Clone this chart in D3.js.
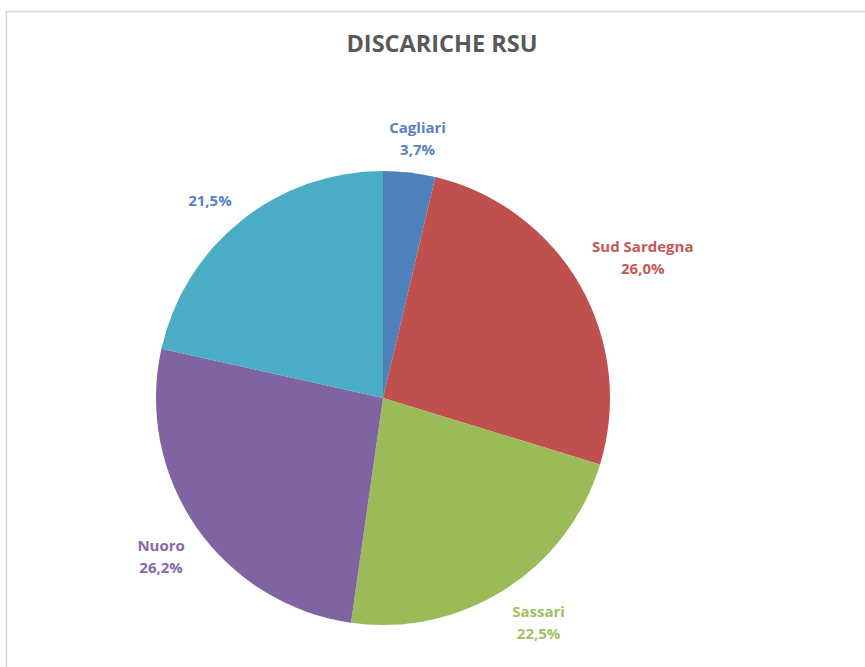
<!DOCTYPE html>
<html>
<head>
<meta charset="utf-8">
<script src="https://cdn.jsdelivr.net/npm/d3@7"></script>
<style>
  html, body { margin: 0; padding: 0; background: #ffffff; }
  svg { display: block; }
</style>
</head>
<body>
<svg id="chart" width="865" height="667"></svg>
<script>
// Discariche RSU: share by province
const categories = ["Cagliari", "Sud Sardegna", "Sassari", "Nuoro", "Oristano"];
const labelNames = ["Cagliari", "Sud Sardegna", "Sassari", "Nuoro", ""];
const shares = [3.7, 26.0, 22.5, 26.2, 21.5];
const sliceColors = ["#4f81bd", "#c0504d", "#9bbb59", "#8064a2", "#4bacc6"];
const labelColors = ["#5a80bf", "#c45957", "#a2bf66", "#8669a8", "#5a80bf"];
const titleText = "DISCARICHE RSU";

const W = 865, H = 667;
const cx = 383, cy = 398, radius = 227;

const svg = d3.select("#chart");

// frame lines around the chart area
svg.append("line").attr("x1", 5).attr("y1", 11.5).attr("x2", W).attr("y2", 11.5)
  .attr("stroke", "#dadada").attr("stroke-width", 1.5);
svg.append("line").attr("x1", 6.5).attr("y1", 11).attr("x2", 6.5).attr("y2", H)
  .attr("stroke", "#dadada").attr("stroke-width", 1.5);

// title
svg.append("text")
  .attr("x", 442).attr("y", 52)
  .attr("text-anchor", "middle")
  .attr("font-family", "'Open Sans', sans-serif")
  .attr("font-weight", 700)
  .attr("font-size", 23.5)
  .attr("fill", "#595959")
  .text(titleText);

const data = categories.map((c, i) => ({ name: c, label: labelNames[i], value: shares[i], i }));

const pie = d3.pie().sort(null).value(d => d.value);
const arc = d3.arc().innerRadius(0).outerRadius(radius);
const arcs = pie(data);

const g = svg.append("g").attr("transform", `translate(${cx},${cy})`);

g.selectAll("path.slice")
  .data(arcs)
  .join("path")
  .attr("class", "slice")
  .attr("d", arc)
  .attr("fill", d => sliceColors[d.data.i]);

// outside-end data labels
const fmt = v => v.toFixed(1).replace(".", ",") + "%";
const clamp = v => Math.max(-1, Math.min(1, v));
const gap = 14;

arcs.forEach(d => {
  const mid = (d.startAngle + d.endAngle) / 2;
  const s = Math.sin(mid), c = Math.cos(mid);
  const lines = d.data.label ? [d.data.label, fmt(d.data.value)] : [fmt(d.data.value)];
  const t = g.append("text")
    .attr("text-anchor", "middle")
    .attr("font-family", "'Open Sans', sans-serif")
    .attr("font-weight", 700)
    .attr("font-size", 15)
    .attr("fill", labelColors[d.data.i]);
  lines.forEach((ln, k) => {
    t.append("tspan").attr("x", 0).attr("dy", k === 0 ? 0 : 22).text(ln);
  });
  const bb = t.node().getBBox();
  const ax = (radius + gap) * s, ay = -(radius + gap) * c;
  const bx = ax + clamp(2 * s) * bb.width / 2;
  const by = ay - clamp(2 * c) * bb.height / 2;
  // shift so that the text box centre lands on (bx, by)
  const ox = bx - (bb.x + bb.width / 2);
  const oy = by - (bb.y + bb.height / 2);
  t.attr("transform", `translate(${ox},${oy})`);
});
</script>
</body>
</html>
